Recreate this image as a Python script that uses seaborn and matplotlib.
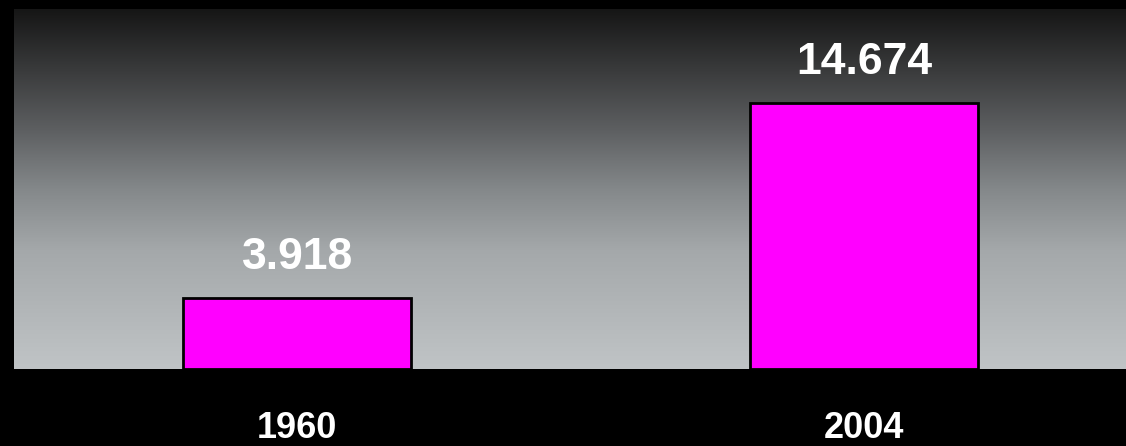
import matplotlib
matplotlib.use("Agg")
import matplotlib.pyplot as plt
from matplotlib.colors import LinearSegmentedColormap
import numpy as np
import pandas as pd
import seaborn as sns

# data
years = ["1960", "2004"]
values = [3.918, 14.674]
value_labels = ["3.918", "14.674"]

sns.set_theme(style="white")
plt.rcParams['font.family'] = ['Liberation Sans', 'DejaVu Sans']

df = pd.DataFrame({"year": years, "value": values})

fig = plt.figure(figsize=(11.26, 4.46), dpi=100, facecolor='black')
ax = fig.add_axes([14/1126, 1 - 369/446, 1112/1126, 360/446])
ax.set_facecolor('black')

# background gradient, dark at top, light grey at bottom
grad = np.linspace(0, 1, 256).reshape(-1, 1)
cmap = LinearSegmentedColormap.from_list(
    "bg", [(0, "#161616"), (0.33, "#5c5e60"), (0.5, "#84888a"),
           (0.67, "#a4a8aa"), (1, "#c0c4c6")], N=256)
ax.imshow(grad, aspect='auto', cmap=cmap, extent=[0, 1, 0, 1],
          transform=ax.transAxes, zorder=0, origin='upper')

sns.barplot(data=df, x="year", y="value", color="#ff00ff", width=0.402,
            edgecolor="black", linewidth=2, saturation=1, ax=ax, zorder=2)

for i, (v, lab) in enumerate(zip(values, value_labels)):
    ax.annotate(lab, (i, v), xytext=(0, 21), textcoords='offset points',
                ha='center', va='baseline', color='white',
                fontsize=32, fontweight='bold', zorder=3)

ax.set_xlim(-0.5, 1.462)
ax.set_ylim(0, 19.85)
ax.set_yticks([])
ax.set_xlabel("")
ax.set_ylabel("")
ax.tick_params(axis='x', length=0, pad=30, labelsize=26, labelcolor='white')
for t in ax.get_xticklabels():
    t.set_fontweight('bold')
for s in ax.spines.values():
    s.set_visible(False)

fig.savefig("out.png", dpi=100, facecolor='black')
